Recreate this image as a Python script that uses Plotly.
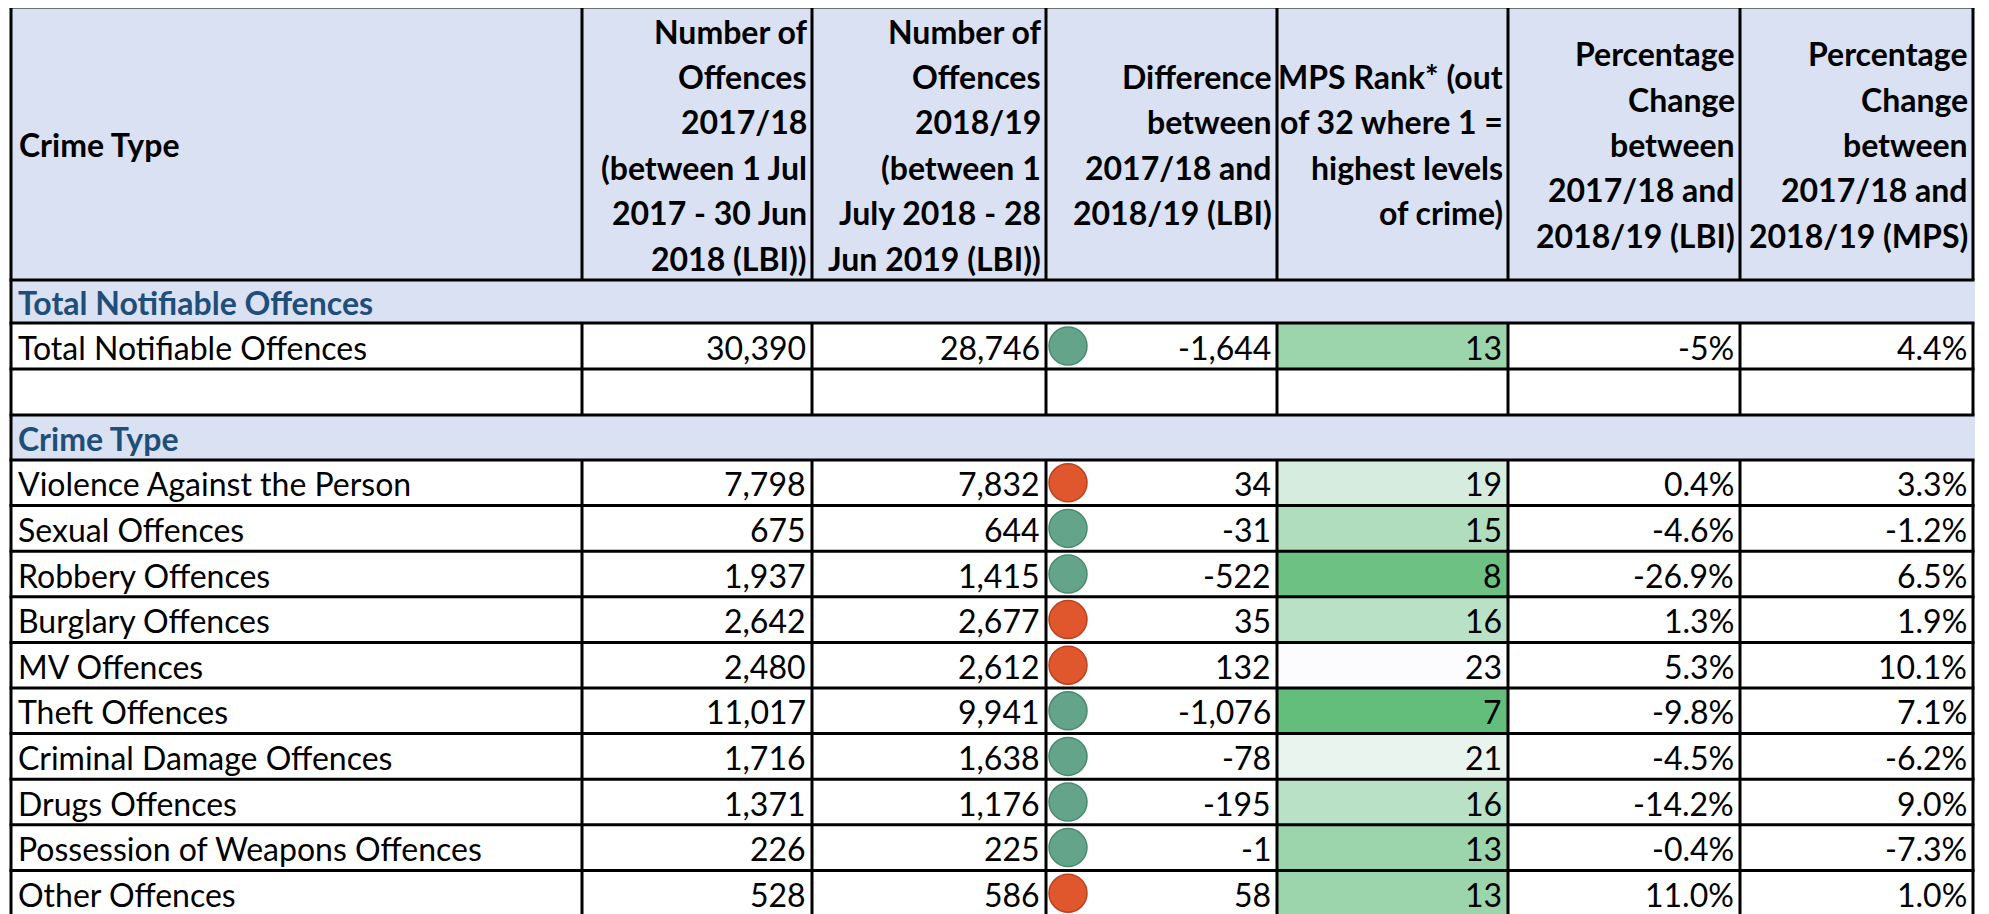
import plotly.graph_objects as go
from plotly.colors import sample_colorscale

# ---------------- data ----------------
header_lines = [
    ["Crime Type"],
    ["Number of", "Offences", "2017/18", "(between 1 Jul", "2017 - 30 Jun", "2018 (LBI))"],
    ["Number of", "Offences", "2018/19", "(between 1", "July 2018 - 28", "Jun 2019 (LBI))"],
    ["Difference", "between", "2017/18 and", "2018/19 (LBI)"],
    ["MPS Rank* (out", "of 32 where 1 =", "highest levels", "of crime)"],
    ["Percentage", "Change", "between", "2017/18 and", "2018/19 (LBI)"],
    ["Percentage", "Change", "between", "2017/18 and", "2018/19 (MPS)"],
]

section_total = "Total Notifiable Offences"
section_types = "Crime Type"

total_label = "Total Notifiable Offences"
total_1718 = 30390
total_1819 = 28746
total_diff = -1644
total_rank = 13
total_pct_lbi = -5
total_pct_mps = 4.4

categories = ["Violence Against the Person", "Sexual Offences", "Robbery Offences",
              "Burglary Offences", "MV Offences", "Theft Offences",
              "Criminal Damage Offences", "Drugs Offences",
              "Possession of Weapons Offences", "Other Offences"]
offences_1718 = [7798, 675, 1937, 2642, 2480, 11017, 1716, 1371, 226, 528]
offences_1819 = [7832, 644, 1415, 2677, 2612, 9941, 1638, 1176, 225, 586]
difference = [34, -31, -522, 35, 132, -1076, -78, -195, -1, 58]
mps_rank = [19, 15, 8, 16, 23, 7, 21, 16, 13, 13]
pct_lbi = [0.4, -4.6, -26.9, 1.3, 5.3, -9.8, -4.5, -14.2, -0.4, 11.0]
pct_mps = [3.3, -1.2, 6.5, 1.9, 10.1, 7.1, -6.2, 9.0, -7.3, 1.0]

# ---------------- layout / style ----------------
W, H = 1989, 914
PAGE_MARGIN = 8  # default body margin of the html page
col_edges = [11, 582, 812, 1046, 1277, 1508, 1740, 1973]
header_top, header_bot = 7, 280
row_h = 45.6
FONT = "Lato, 'Open Sans', sans-serif"
FS = 32
HEADER_BG = "#D9E1F2"
SECTION_TXT = "#1F4E79"
BORDER = "black"
BW = 3
RED, RED_EDGE = "#E0572D", "#B9421F"
GREEN, GREEN_EDGE = "#63A48B", "#4A8A72"
rank_scale = [[0, "#63BE7B"], [1, "#FCFCFF"]]

# row bands (top, bottom)
r_sec1 = (header_bot, header_bot + 43)
r_total = (r_sec1[1], r_sec1[1] + 46)
r_blank = (r_total[1], r_total[1] + 46)
r_sec2 = (r_blank[1], r_blank[1] + 45)
data_top = r_sec2[1]
data_rows = [(data_top + i * row_h, data_top + (i + 1) * row_h) for i in range(len(categories))]

shapes = []
annotations = []

def rect(x0, x1, y0, y1, color):
    shapes.append(dict(type="rect", xref="x", yref="y", x0=x0, x1=x1, y0=y0, y1=y1,
                       fillcolor=color, line=dict(width=0), layer="below"))

def hline(y, x0, x1):
    shapes.append(dict(type="line", xref="x", yref="y", x0=x0, x1=x1, y0=y, y1=y,
                       line=dict(color=BORDER, width=BW)))

def vline(x, y0, y1):
    shapes.append(dict(type="line", xref="x", yref="y", x0=x, x1=x, y0=y0, y1=y1,
                       line=dict(color=BORDER, width=BW)))

def text(x, y, s, anchor="right", bold=False, color="black", size=FS):
    annotations.append(dict(x=x, y=y, xref="x", yref="y", text=(f"<b>{s}</b>" if bold else s),
                            showarrow=False, xanchor=anchor, yanchor="middle",
                            font=dict(family=FONT, size=size, color=color)))

left, right = col_edges[0], col_edges[-1]

# header & section fills
rect(left, right, header_top, header_bot, HEADER_BG)
rect(left, right + 2, r_sec1[0], r_sec1[1], HEADER_BG)
rect(left, right + 2, r_sec2[0], r_sec2[1], HEADER_BG)

# header text
hc = (header_top + header_bot) / 2 + 1
line_sp = 45.4
for ci, lines in enumerate(header_lines):
    n = len(lines)
    for li, s in enumerate(lines):
        y = hc + (li - (n - 1) / 2) * line_sp
        if ci == 0:
            text(col_edges[0] + 6, y, s, anchor="left", bold=True)
        else:
            text(col_edges[ci + 1] - 3, y, s, anchor="right", bold=True)

# section labels
text(left + 5, (r_sec1[0] + r_sec1[1]) / 2 + 1, section_total, anchor="left", bold=True, color=SECTION_TXT)
text(left + 5, (r_sec2[0] + r_sec2[1]) / 2 + 1, section_types, anchor="left", bold=True, color=SECTION_TXT)

def rank_color(v):
    lo, hi = min(mps_rank + [total_rank]), max(mps_rank + [total_rank])
    return sample_colorscale(rank_scale, [(v - lo) / (hi - lo)], colortype="rgb")[0]

def fmt_pct(v, d=1):
    return f"{v:.{d}f}%"

all_rows = [(r_total, total_label, total_1718, total_1819, total_diff, total_rank,
             fmt_pct(total_pct_lbi, 0), fmt_pct(total_pct_mps))]
for i, cat in enumerate(categories):
    all_rows.append((data_rows[i], cat, offences_1718[i], offences_1819[i], difference[i],
                     mps_rank[i], fmt_pct(pct_lbi[i]), fmt_pct(pct_mps[i])))

circle_x, circle_y, circle_c, circle_e = [], [], [], []
for (y0, y1), cat, a, b, d, rk, p1, p2 in all_rows:
    yc = (y0 + y1) / 2 + 1
    rect(col_edges[4], col_edges[5], y0, y1, rank_color(rk))
    text(left + 5, yc, cat, anchor="left")
    vals = [f"{a:,}", f"{b:,}", f"{d:,}", str(rk), p1, p2]
    for k, s in enumerate(vals):
        text(col_edges[k + 2] - 4, yc, s)
    circle_x.append(col_edges[3] + 22)
    circle_y.append((y0 + y1) / 2)
    circle_c.append(RED if d > 0 else GREEN)
    circle_e.append(RED_EDGE if d > 0 else GREEN_EDGE)

# borders
ys = [header_top, header_bot, r_sec1[1], r_total[1], r_blank[1], r_sec2[1]] + [r[1] for r in data_rows]
for y in ys:
    hline(y, left - 1.5, right + 1.5)
vline(left, header_top, data_rows[-1][1])
bands = [(header_top, header_bot), (r_total[0], r_blank[1]), (data_top, data_rows[-1][1])]
for x in col_edges[1:]:
    for y0, y1 in bands:
        vline(x, y0, y1)

fig = go.Figure()
fig.add_trace(go.Scatter(x=circle_x, y=circle_y, mode="markers", hoverinfo="skip",
                         marker=dict(size=38, color=circle_c, line=dict(color=circle_e, width=1.5)),
                         showlegend=False))
fig.update_layout(
    width=W - 2 * PAGE_MARGIN, height=H - PAGE_MARGIN, autosize=False,
    margin=dict(l=0, r=0, t=0, b=0),
    paper_bgcolor="white", plot_bgcolor="white",
    xaxis=dict(range=[PAGE_MARGIN, W - PAGE_MARGIN], visible=False, fixedrange=True),
    yaxis=dict(range=[H, PAGE_MARGIN], visible=False, fixedrange=True),
    shapes=shapes, annotations=annotations, showlegend=False,
)
fig.write_html("out.html")
